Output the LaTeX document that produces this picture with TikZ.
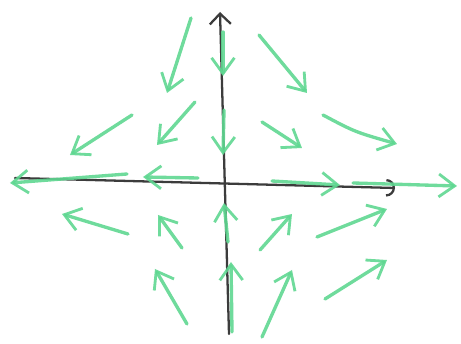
\documentclass[tikz,border=0pt]{standalone}
\usetikzlibrary{arrows.meta}
\definecolor{pencilgreen}{RGB}{95,215,145}
\definecolor{pencilgray}{RGB}{60,60,60}
\begin{document}
\begin{tikzpicture}[line cap=round,line join=round,x=0.02cm,y=-0.02cm,
  field/.style={pencilgreen,line width=1.9pt,opacity=0.9,
    -{Straight Barb[length=9pt,width=13pt,line width=1.6pt]}},
  axis/.style={pencilgray,line width=1.3pt}]
\useasboundingbox (0,0) rectangle (461,344);

% --- axes ---
\draw[axis,-{Straight Barb[length=6pt,width=12pt]}] (229,334) -- (220,12);
\draw[axis,-{Arc Barb[length=5pt,width=10pt]}] (15,178) -- (395,188);

% --- field arrows (tail/head in pixel coords) ---
\foreach \xa/\ya/\xb/\yb in {
  191/18/167/93, 195/102/157/145, 132/115/70/155,
  223/32/223/76, 224/110/223/155,
  259/35/307/93, 262/122/302/148,
  127/174/10/183, 198/178/143/177,
  272/181/340/185, 353/183/457/186,
  128/234/62/214, 182/248/158/215, 187/324/155/269,
  228/242/224/203, 232/332/231/262,
  260/250/292/214, 317/237/387/209, 325/299/387/260, 262/337/292/270}
  \draw[field] (\xa,\ya) -- (\xb,\yb);

% slightly bent one on the right
\draw[field] (323,115) .. controls (355,132) .. (397,144);

\end{tikzpicture}
\end{document}
